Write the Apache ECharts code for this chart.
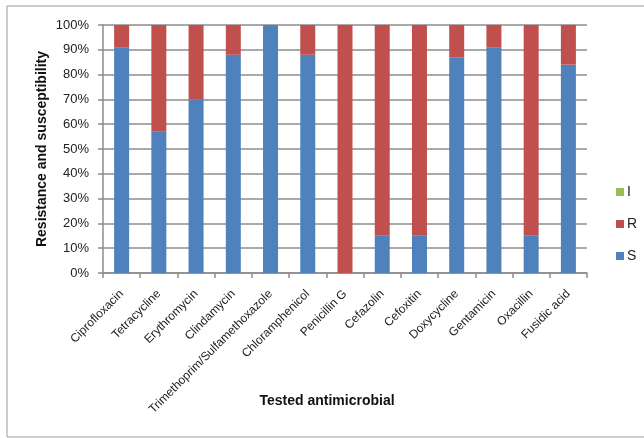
<!DOCTYPE html>
<html>
<head>
<meta charset="utf-8">
<script src="https://cdn.jsdelivr.net/npm/echarts@6/dist/echarts.min.js"></script>
<style>
  html, body { margin: 0; padding: 0; background: #fff; }
  #chart { width: 644px; height: 438px; }
</style>
</head>
<body>
<div id="chart"></div>
<script>
// Antimicrobials tested
const categories = [
  'Ciprofloxacin', 'Tetracycline', 'Erythromycin', 'Clindamycin',
  'Trimethoprim/Sulfamethoxazole', 'Chloramphenicol', 'Penicillin G',
  'Cefazolin', 'Cefoxitin', 'Doxycycline', 'Gentamicin', 'Oxacillin', 'Fusidic acid'
];
// Share of isolates (%) per outcome
const susceptible   = [91, 57, 70, 88, 100, 88, 0, 15, 15, 87, 91, 15, 84];
const resistant     = [9, 43, 30, 12, 0, 12, 100, 85, 85, 13, 9, 85, 16];
const intermediate  = [0, 0, 0, 0, 0, 0, 0, 0, 0, 0, 0, 0, 0];
const yTicks = [0, 10, 20, 30, 40, 50, 60, 70, 80, 90, 100];

const font = 'Liberation Sans, Arial, sans-serif';
const chart = echarts.init(document.getElementById('chart'), null, { renderer: 'canvas' });

chart.setOption({
  animation: false,
  backgroundColor: '#fff',
  graphic: [{
    type: 'rect',
    shape: { x: 7, y: 6, width: 660, height: 431 },
    style: { fill: 'none', stroke: '#9a9a9a', lineWidth: 1 },
    silent: true
  }],
  grid: { left: 103, right: 57, top: 25, bottom: 165, outerBoundsMode: 'none', containLabel: false },
  legend: {
    orient: 'vertical',
    left: 611, top: 180,
    itemWidth: 8, itemHeight: 8, itemGap: 18,
    icon: 'rect',
    textStyle: { fontFamily: font, fontSize: 14, color: '#222', padding: [0, 0, 0, -2] },
    data: ['I', 'R', 'S']
  },
  xAxis: {
    type: 'category',
    data: categories,
    name: 'Tested antimicrobial',
    nameLocation: 'middle',
    nameGap: 121,
    nameMoveOverlap: false,
    nameTextStyle: { fontFamily: font, fontSize: 14, fontWeight: 'bold', color: '#111', padding: [0, 36, 0, 0] },
    axisLine: { lineStyle: { color: '#8c8c8c', width: 1.5 } },
    axisTick: { show: true, length: 5, lineStyle: { color: '#8c8c8c', width: 1.5 } },
    axisLabel: { rotate: 45, margin: 19, interval: 0, fontFamily: font, fontSize: 12, color: '#222' }
  },
  yAxis: {
    type: 'value',
    min: 0, max: 100, interval: 10,
    name: 'Resistance and susceptibility',
    nameLocation: 'middle',
    nameGap: 54,
    nameMoveOverlap: false,
    nameTextStyle: { fontFamily: font, fontSize: 14, fontWeight: 'bold', color: '#111' },
    axisLine: { show: true, lineStyle: { color: '#8c8c8c', width: 1.5 } },
    axisTick: { show: true, length: 5, lineStyle: { color: '#8c8c8c', width: 1.5 } },
    axisLabel: {
      fontFamily: font, fontSize: 13, color: '#222', margin: 14,
      formatter: v => (yTicks.includes(v) ? v + '%' : '')
    },
    splitLine: { lineStyle: { color: '#8c8c8c', width: 1.5 } }
  },
  series: [
    { name: 'S', type: 'bar', stack: 'total', data: susceptible, barWidth: 15, itemStyle: { color: '#4F81BD' } },
    { name: 'R', type: 'bar', stack: 'total', data: resistant, barWidth: 15, itemStyle: { color: '#C0504D' } },
    { name: 'I', type: 'bar', stack: 'total', data: intermediate, barWidth: 15, itemStyle: { color: '#9BBB59' } }
  ]
});
</script>
</body>
</html>
